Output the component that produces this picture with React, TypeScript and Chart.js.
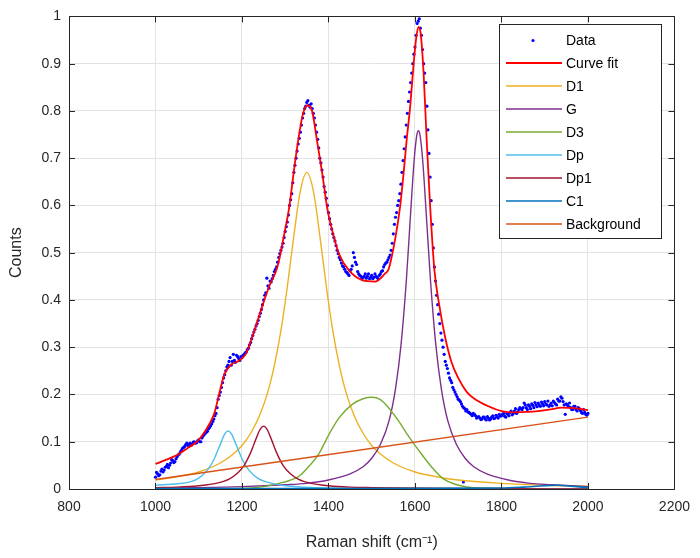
import React, { useEffect, useRef } from "react";
import { Chart, registerables } from "chart.js";

Chart.register(...registerables);

// ---- axes ----
const xTickValues = [800, 1000, 1200, 1400, 1600, 1800, 2000, 2200];
const yTickValues = [0, 0.1, 0.2, 0.3, 0.4, 0.5, 0.6, 0.7, 0.8, 0.9, 1];

// ---- measured data (dots), part A ----
const dataX = [
  1000, 1005, 1010, 1015, 1020, 1025, 1030, 1035, 1040, 1045,
  1050, 1055, 1060, 1065, 1070, 1075, 1080, 1085, 1090, 1095,
  1100, 1105, 1110, 1115, 1120, 1125, 1130, 1135, 1140, 1145,
  1150, 1155, 1160, 1165, 1170, 1175, 1180, 1185, 1190, 1195,
  1200, 1205, 1210, 1215, 1220, 1225, 1230, 1235, 1240, 1245,
  1250, 1255, 1260, 1265, 1270, 1275, 1280, 1285, 1290, 1295,
  1300, 1305, 1310, 1315, 1320, 1325, 1330, 1335, 1340, 1345,
  1350, 1355, 1360, 1365, 1370, 1375, 1380, 1385, 1390, 1395,
  1400, 1405, 1410, 1415, 1420, 1425, 1430, 1435, 1440, 1445,
  1450, 1455, 1460, 1465, 1470, 1475, 1480, 1485, 1490, 1495,
  1500, 1505, 1510, 1515, 1520, 1525, 1530, 1535, 1540, 1545,
  1550, 1555, 1560, 1565, 1570, 1575, 1580, 1585, 1590, 1595,
  1600, 1605, 1610, 1615, 1620, 1625, 1630, 1635, 1640, 1645,
  1650, 1655, 1660, 1665, 1670, 1675, 1680, 1685, 1690, 1695,
  1700, 1705, 1710, 1712, 1715, 1720, 1725, 1730, 1735, 1740, 1745,
  1750, 1755, 1760, 1765, 1770, 1775, 1780, 1785, 1790, 1795,
  1800, 1805, 1810, 1815, 1820, 1825, 1830, 1835, 1840, 1845,
  1850, 1855, 1860, 1865, 1870, 1875, 1880, 1885, 1890, 1895,
  1900, 1905, 1910, 1915, 1920, 1925, 1930, 1935, 1940, 1945,
  1950, 1955, 1960, 1965, 1970, 1975, 1980, 1985, 1990, 1995, 2000,
];
const dataY = [
  0.025, 0.032, 0.03, 0.042, 0.04, 0.048, 0.045, 0.055, 0.06, 0.058,
  0.068, 0.074, 0.082, 0.088, 0.094, 0.092, 0.097, 0.095, 0.1, 0.098,
  0.104, 0.1, 0.112, 0.118, 0.122, 0.13, 0.138, 0.148, 0.16, 0.19,
  0.205, 0.225, 0.242, 0.258, 0.27, 0.262, 0.285, 0.268, 0.28, 0.272,
  0.278, 0.285, 0.29, 0.298, 0.31, 0.325, 0.338, 0.35, 0.365, 0.38,
  0.4, 0.415, 0.43, 0.44, 0.445, 0.46, 0.47, 0.49, 0.505, 0.52,
  0.545, 0.565, 0.6, 0.625, 0.67, 0.7, 0.73, 0.755, 0.785, 0.805,
  0.818, 0.812, 0.815, 0.795, 0.77, 0.74, 0.7, 0.675, 0.64, 0.615,
  0.585, 0.56, 0.54, 0.525, 0.505, 0.49, 0.478, 0.47, 0.46, 0.455,
  0.462, 0.472, 0.49, 0.475, 0.455, 0.45, 0.448, 0.455, 0.45, 0.445,
  0.452, 0.448, 0.45, 0.445, 0.455, 0.462, 0.475, 0.48, 0.49, 0.505,
  0.54, 0.575, 0.6, 0.625, 0.67, 0.72, 0.77, 0.82, 0.86, 0.9,
  0.935, 0.985, 0.995, 0.96, 0.9, 0.86, 0.76, 0.66, 0.56, 0.47,
  0.41, 0.37, 0.33, 0.3, 0.27, 0.255, 0.235, 0.225, 0.21, 0.2,
  0.19, 0.185, 0.175, 0.015, 0.17, 0.168, 0.162, 0.158, 0.16, 0.155, 0.152,
  0.15, 0.148, 0.152, 0.146, 0.15, 0.148, 0.155, 0.15, 0.153, 0.158,
  0.155, 0.16, 0.152, 0.158, 0.162, 0.157, 0.165, 0.16, 0.168, 0.17,
  0.172, 0.178, 0.168, 0.175, 0.18, 0.172, 0.178, 0.182, 0.175, 0.18,
  0.185, 0.178, 0.175, 0.182, 0.186, 0.18, 0.19, 0.186, 0.192, 0.178,
  0.18, 0.175, 0.172, 0.168, 0.175, 0.165, 0.17, 0.162, 0.168, 0.158, 0.16,
];

// ---- measured data (dots), part B (interleaved samples) ----
const dataXb = [
  1002.5, 1007.5, 1012.5, 1017.5, 1022.5, 1027.5, 1032.5, 1037.5, 1042.5, 1047.5,
  1052.5, 1057.5, 1062.5, 1067.5, 1072.5, 1077.5, 1082.5, 1087.5, 1092.5, 1097.5,
  1102.5, 1107.5, 1112.5, 1117.5, 1122.5, 1127.5, 1132.5, 1137.5, 1142.5, 1147.5,
  1152.5, 1157.5, 1162.5, 1167.5, 1172.5, 1177.5, 1182.5, 1187.5, 1192.5, 1197.5,
  1202.5, 1207.5, 1212.5, 1217.5, 1222.5, 1227.5, 1232.5, 1237.5, 1242.5, 1247.5,
  1252.5, 1257.5, 1262.5, 1267.5, 1272.5, 1277.5, 1282.5, 1287.5, 1292.5, 1297.5,
  1302.5, 1307.5, 1312.5, 1317.5, 1322.5, 1327.5, 1332.5, 1337.5, 1342.5, 1347.5,
  1352.5, 1357.5, 1362.5, 1367.5, 1372.5, 1377.5, 1382.5, 1387.5, 1392.5, 1397.5,
  1402.5, 1407.5, 1412.5, 1417.5, 1422.5, 1427.5, 1432.5, 1437.5, 1442.5, 1447.5,
  1452.5, 1457.5, 1462.5, 1467.5, 1472.5, 1477.5, 1482.5, 1487.5, 1492.5, 1497.5,
  1502.5, 1507.5, 1512.5, 1517.5, 1522.5, 1527.5, 1532.5, 1537.5, 1542.5, 1547.5,
  1552.5, 1557.5, 1562.5, 1567.5, 1572.5, 1577.5, 1582.5, 1587.5, 1592.5, 1597.5,
  1602.5, 1607.5, 1612.5, 1617.5, 1622.5, 1627.5, 1632.5, 1637.5, 1642.5, 1647.5,
  1652.5, 1657.5, 1662.5, 1667.5, 1672.5, 1677.5, 1682.5, 1687.5, 1692.5, 1697.5,
  1702.5, 1707.5, 1712.5, 1717.5, 1722.5, 1727.5, 1732.5, 1737.5, 1742.5, 1747.5,
  1752.5, 1757.5, 1762.5, 1767.5, 1772.5, 1777.5, 1782.5, 1787.5, 1792.5, 1797.5,
  1802.5, 1807.5, 1812.5, 1817.5, 1822.5, 1827.5, 1832.5, 1837.5, 1842.5, 1847.5,
  1852.5, 1857.5, 1862.5, 1867.5, 1872.5, 1877.5, 1882.5, 1887.5, 1892.5, 1897.5,
  1902.5, 1907.5, 1912.5, 1917.5, 1922.5, 1927.5, 1932.5, 1937.5, 1942.5, 1947.5,
  1952.5, 1957.5, 1962.5, 1967.5, 1972.5, 1977.5, 1982.5, 1987.5, 1992.5, 1997.5,
];
const dataYb = [
  0.035, 0.028, 0.038, 0.036, 0.046, 0.052, 0.05, 0.062, 0.056, 0.064,
  0.072, 0.078, 0.086, 0.09, 0.097, 0.094, 0.092, 0.099, 0.097, 0.102,
  0.1, 0.108, 0.115, 0.12, 0.127, 0.134, 0.143, 0.155, 0.172, 0.198,
  0.215, 0.235, 0.25, 0.262, 0.278, 0.27, 0.272, 0.283, 0.276, 0.28,
  0.283, 0.288, 0.295, 0.305, 0.318, 0.332, 0.345, 0.357, 0.372, 0.39,
  0.41, 0.446, 0.425, 0.438, 0.452, 0.465, 0.48, 0.498, 0.512, 0.532,
  0.555, 0.58, 0.612, 0.648, 0.685, 0.715, 0.742, 0.77, 0.795, 0.81,
  0.822, 0.808, 0.805, 0.785, 0.755, 0.722, 0.69, 0.66, 0.628, 0.6,
  0.572, 0.55, 0.532, 0.515, 0.498, 0.485, 0.472, 0.465, 0.458, 0.452,
  0.465, 0.5, 0.48, 0.46, 0.452, 0.445, 0.45, 0.446, 0.455, 0.448,
  0.445, 0.455, 0.447, 0.452, 0.46, 0.47, 0.478, 0.485, 0.495, 0.52,
  0.56, 0.585, 0.61, 0.645, 0.695, 0.745, 0.795, 0.84, 0.88, 0.92,
  0.96, 0.99, 0.975, 0.93, 0.88, 0.81, 0.71, 0.61, 0.51, 0.44,
  0.39, 0.35, 0.315, 0.285, 0.262, 0.245, 0.23, 0.215, 0.205, 0.195,
  0.188, 0.18, 0.172, 0.165, 0.163, 0.16, 0.155, 0.158, 0.15, 0.153,
  0.147, 0.152, 0.148, 0.153, 0.146, 0.152, 0.149, 0.156, 0.15, 0.154,
  0.158, 0.154, 0.16, 0.155, 0.165, 0.16, 0.17, 0.163, 0.172, 0.168,
  0.182, 0.172, 0.178, 0.17, 0.177, 0.183, 0.174, 0.178, 0.184, 0.176,
  0.18, 0.186, 0.178, 0.176, 0.183, 0.178, 0.186, 0.195, 0.185, 0.158,
  0.178, 0.182, 0.168, 0.175, 0.168, 0.172, 0.166, 0.16, 0.162, 0.156,
];

// ---- curve fit ----
const fitX = [
  1000, 1025, 1050, 1075, 1100, 1125, 1136, 1148, 1159, 1175, 1194, 1209, 1224,
  1247, 1263, 1282, 1300, 1309, 1324, 1340, 1351, 1362, 1374, 1386, 1397, 1409,
  1424, 1447, 1478, 1508, 1531, 1539, 1555, 1566, 1574, 1581, 1589, 1597, 1603,
  1608, 1613, 1620, 1627, 1635, 1645, 1656, 1670, 1684, 1700, 1720, 1739, 1770,
  1800, 1830, 1860, 1885, 1910, 1940, 1970, 2000,
];
const fitY = [
  0.053, 0.062, 0.072, 0.087, 0.104, 0.138, 0.16, 0.204, 0.242, 0.263, 0.272, 0.286, 0.322,
  0.387, 0.429, 0.47, 0.55, 0.595, 0.7, 0.79, 0.812, 0.8, 0.734, 0.665, 0.595, 0.546,
  0.498, 0.463, 0.442, 0.439, 0.456, 0.465, 0.533, 0.6, 0.671, 0.74, 0.81, 0.9, 0.955,
  0.978, 0.965, 0.88, 0.74, 0.6, 0.463, 0.39, 0.32, 0.27, 0.235, 0.205, 0.19, 0.175,
  0.165, 0.162, 0.163, 0.165, 0.168, 0.172, 0.171, 0.167,
];

// ---- D1 ----
const d1X = [1000, 1050, 1100, 1150, 1180, 1200, 1220, 1240, 1260, 1275, 1290, 1305, 1320, 1335, 1350, 1365, 1380, 1395, 1410, 1425, 1440, 1460, 1480, 1500, 1520, 1550, 1600, 1650, 1700, 1800, 1900, 2000];
const d1Y = [0.019, 0.026, 0.036, 0.055, 0.074, 0.092, 0.118, 0.154, 0.206, 0.262, 0.335, 0.429, 0.536, 0.631, 0.67, 0.631, 0.536, 0.429, 0.335, 0.262, 0.206, 0.154, 0.118, 0.092, 0.074, 0.055, 0.036, 0.026, 0.019, 0.012, 0.008, 0.006];

// ---- G ----
const gX = [1000, 1100, 1200, 1300, 1350, 1400, 1450, 1480, 1500, 1520, 1540, 1555, 1568, 1580, 1590, 1598, 1604, 1608, 1612, 1618, 1626, 1636, 1648, 1661, 1676, 1696, 1716, 1736, 1766, 1816, 1866, 1916, 2000];
const gY = [0.002, 0.003, 0.005, 0.009, 0.012, 0.019, 0.032, 0.047, 0.065, 0.094, 0.144, 0.212, 0.307, 0.44, 0.584, 0.694, 0.747, 0.758, 0.747, 0.694, 0.584, 0.44, 0.307, 0.212, 0.144, 0.094, 0.065, 0.047, 0.032, 0.019, 0.012, 0.009, 0.005];

// ---- D3 ----
const d3X = [1000, 1200, 1250, 1286, 1310, 1332, 1355, 1378, 1401, 1424, 1455, 1480, 1501, 1520, 1539, 1562, 1585, 1610, 1639, 1665, 1693, 1750, 2000];
const d3Y = [0.0, 0.001, 0.005, 0.012, 0.018, 0.027, 0.048, 0.075, 0.115, 0.15, 0.179, 0.191, 0.194, 0.189, 0.172, 0.144, 0.112, 0.08, 0.046, 0.022, 0.01, 0.002, 0.0];

// ---- Dp ----
const dpX = [1000, 1050, 1080, 1100, 1120, 1135, 1150, 1160, 1168, 1176, 1186, 1201, 1216, 1236, 1256, 1300, 1400, 1600, 2000];
const dpY = [0.008, 0.011, 0.015, 0.023, 0.04, 0.062, 0.095, 0.116, 0.123, 0.116, 0.095, 0.062, 0.04, 0.023, 0.015, 0.007, 0.002, 0.001, 0.0];

// ---- Dp1 ----
const dp1X = [1000, 1050, 1100, 1140, 1170, 1190, 1205, 1220, 1232, 1242, 1250, 1258, 1268, 1280, 1295, 1310, 1330, 1360, 1400, 1450, 1500, 1700, 2000];
const dp1Y = [0.003, 0.004, 0.007, 0.012, 0.021, 0.034, 0.05, 0.077, 0.105, 0.126, 0.133, 0.126, 0.105, 0.077, 0.05, 0.034, 0.021, 0.012, 0.007, 0.004, 0.003, 0.001, 0.0];

// ---- C1 ----
const c1X = [1000, 1500, 1800, 1850, 1900, 1930, 1960, 2000];
const c1Y = [0.001, 0.001, 0.002, 0.004, 0.007, 0.008, 0.006, 0.003];

// ---- Background ----
const bgX = [1000, 2000];
const bgY = [0.02, 0.152];

const seriesLabels = ["Data", "Curve fit", "D1", "G", "D3", "Dp", "Dp1", "C1", "Background"];
const seriesColors = ["#0000FF", "#FF0000", "#EDB120", "#7E2F8E", "#77AC30", "#4DBEEE", "#A2142F", "#0072BD", "#D95319"];

const FONT = "'Liberation Sans', Arial, Helvetica, sans-serif";
const AXIS_COLOR = "#262626";

function pts(xs: number[], ys: number[]) {
  return xs.map((x, i) => ({ x, y: ys[i] }));
}

const frameAndLegend = {
  id: "frameAndLegend",
  afterDatasetsDraw(chart: any) {
    const { ctx, chartArea, scales } = chart;
    const { left, right, top, bottom } = chartArea;
    ctx.save();
    ctx.strokeStyle = AXIS_COLOR;
    ctx.lineWidth = 1;
    ctx.beginPath();
    ctx.rect(Math.round(left) + 0.5, Math.round(top) + 0.5, Math.round(right - left), Math.round(bottom - top));
    ctx.stroke();
    const tl = 6;
    ctx.beginPath();
    for (const v of xTickValues) {
      const px = Math.round(scales.x.getPixelForValue(v)) + 0.5;
      ctx.moveTo(px, bottom);
      ctx.lineTo(px, bottom - tl);
      ctx.moveTo(px, top);
      ctx.lineTo(px, top + tl);
    }
    for (const v of yTickValues) {
      const py = Math.round(scales.y.getPixelForValue(v)) + 0.5;
      ctx.moveTo(left, py);
      ctx.lineTo(left + tl, py);
      ctx.moveTo(right, py);
      ctx.lineTo(right - tl, py);
    }
    ctx.stroke();

    // legend
    const bx = 499.5, by = 24.5, bw = 162, bh = 214;
    ctx.fillStyle = "#ffffff";
    ctx.fillRect(bx, by, bw, bh);
    ctx.strokeStyle = AXIS_COLOR;
    ctx.lineWidth = 1;
    ctx.strokeRect(bx, by, bw, bh);
    ctx.font = `14px ${FONT}`;
    ctx.textBaseline = "middle";
    ctx.textAlign = "left";
    chart.data.datasets.forEach((ds: any, i: number) => {
      const y = 40.5 + i * 22.9;
      if (i === 0) {
        ctx.fillStyle = ds.backgroundColor;
        ctx.beginPath();
        ctx.arc(533, y, 1.6, 0, Math.PI * 2);
        ctx.fill();
      } else {
        ctx.strokeStyle = ds.borderColor;
        ctx.lineWidth = ds.borderWidth;
        ctx.beginPath();
        ctx.moveTo(506, Math.round(y));
        ctx.lineTo(562, Math.round(y));
        ctx.stroke();
      }
      ctx.fillStyle = "#000000";
      ctx.fillText(ds.label, 566, y + 1);
    });
    ctx.restore();
  },
};

export default function App() {
  const canvasRef = useRef<HTMLCanvasElement | null>(null);

  useEffect(() => {
    if (!canvasRef.current) return;
    const lineSets = [
      [fitX, fitY, 1.8],
      [d1X, d1Y, 1.4],
      [gX, gY, 1.4],
      [d3X, d3Y, 1.4],
      [dpX, dpY, 1.4],
      [dp1X, dp1Y, 1.4],
      [c1X, c1Y, 1.6],
      [bgX, bgY, 1.4],
    ] as [number[], number[], number][];

    const datasets: any[] = [
      {
        label: seriesLabels[0],
        data: pts(dataX, dataY).concat(pts(dataXb, dataYb)),
        showLine: false,
        pointRadius: 1.6,
        pointBorderWidth: 0,
        backgroundColor: seriesColors[0],
        borderColor: seriesColors[0],
        order: 20,
      },
      ...lineSets.map(([xs, ys, w], k) => ({
        label: seriesLabels[k + 1],
        data: pts(xs, ys),
        showLine: true,
        pointRadius: 0,
        borderWidth: w,
        borderColor: seriesColors[k + 1],
        backgroundColor: seriesColors[k + 1],
        cubicInterpolationMode: "monotone",
        fill: false,
        order: 19 - k,
      })),
    ];

    const chart = new Chart(canvasRef.current, {
      type: "scatter",
      data: { datasets },
      plugins: [frameAndLegend],
      options: {
        animation: false,
        responsive: false,
        layout: { padding: { top: 9, right: 23, left: 0, bottom: 0 } },
        plugins: { legend: { display: false }, tooltip: { enabled: false } },
        scales: {
          x: {
            type: "linear",
            min: 800,
            max: 2200,
            afterBuildTicks: (s: any) => {
              s.ticks = xTickValues.map((v) => ({ value: v }));
            },
            afterFit: (s: any) => {
              s.height = 69;
            },
            border: { display: false },
            grid: { color: "#e3e3e3", drawTicks: false, lineWidth: 1 },
            ticks: {
              color: AXIS_COLOR,
              font: { family: FONT, size: 14 },
              padding: 10,
              maxRotation: 0,
              callback: (v: any) => String(v),
            },
            title: {
              display: true,
              text: "Raman shift (cm⁻¹)",
              color: AXIS_COLOR,
              font: { family: FONT, size: 16 },
              padding: { top: 2, bottom: 6 },
            },
          },
          y: {
            type: "linear",
            min: 0,
            max: 1,
            afterBuildTicks: (s: any) => {
              s.ticks = yTickValues.map((v) => ({ value: v }));
            },
            afterFit: (s: any) => {
              s.width = 69;
            },
            border: { display: false },
            grid: { color: "#e3e3e3", drawTicks: false, lineWidth: 1 },
            ticks: {
              color: AXIS_COLOR,
              font: { family: FONT, size: 14 },
              padding: 8,
              callback: (v: any) => String(Number(Number(v).toFixed(1))),
            },
            title: {
              display: true,
              text: "Counts",
              color: AXIS_COLOR,
              font: { family: FONT, size: 16 },
              padding: { top: 7, bottom: 4 },
            },
          },
        },
      },
    });
    return () => chart.destroy();
  }, []);

  return (
    <div style={{ position: "fixed", left: 0, top: 0, width: 700, height: 558, background: "#fff" }}>
      <canvas ref={canvasRef} width={700} height={558} style={{ display: "block", width: 700, height: 558 }} />
    </div>
  );
}
